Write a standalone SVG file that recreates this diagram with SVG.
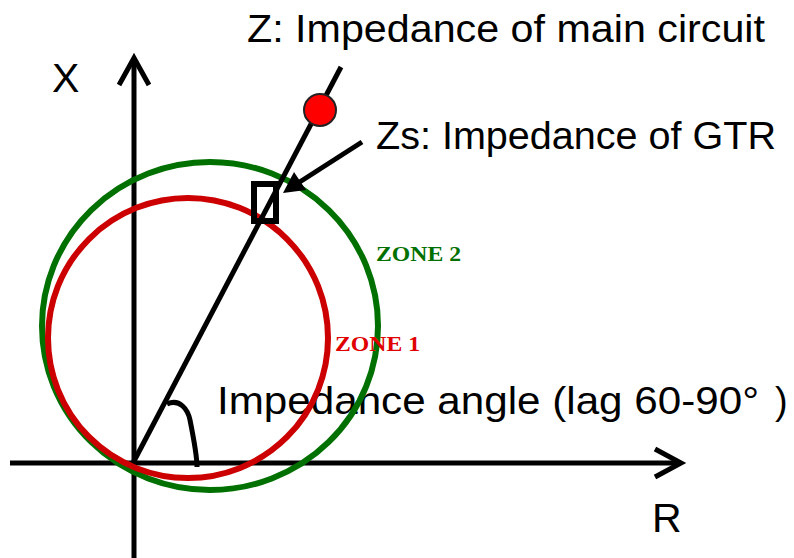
<svg xmlns="http://www.w3.org/2000/svg" width="794" height="558" viewBox="0 0 794 558">
<style>
.ax{stroke:#000;stroke-width:5;fill:none;stroke-linecap:butt;stroke-linejoin:miter}
.lbl{font-family:"Liberation Sans",Arial,sans-serif;fill:#000}
.zone{font-family:"Liberation Serif","Times New Roman",serif;font-weight:bold;font-size:21px}
</style>
<rect width="794" height="558" fill="#fff"/>
<g id="axes">
<line class="ax" x1="134" y1="558" x2="134" y2="60"/>
<polyline class="ax" points="119,85 134,58 149,85"/>
<line class="ax" x1="10" y1="463" x2="679" y2="463"/>
<polyline class="ax" points="655,449 681,463 655,477"/>
<text class="lbl" x="52" y="92" font-size="41">X</text>
<text class="lbl" x="652" y="532" font-size="41">R</text>
</g>
<g id="angle-label">
<text class="lbl" x="217" y="414" font-size="38" textLength="542" lengthAdjust="spacingAndGlyphs">Impedance angle (lag 60-90°</text>
<text class="lbl" x="775" y="414" font-size="38">)</text>
</g>
<g id="zone2">
<ellipse cx="210" cy="326" rx="168" ry="164" fill="none" stroke="#007000" stroke-width="6"/>
<text class="zone" x="376" y="261" fill="#007000" textLength="85" lengthAdjust="spacingAndGlyphs">ZONE 2</text>
</g>
<g id="zone1">
<circle cx="188" cy="338" r="140" fill="none" stroke="#CC0000" stroke-width="6"/>
<text class="zone" x="335" y="351" fill="#E00000" textLength="85" lengthAdjust="spacingAndGlyphs">ZONE 1</text>
</g>
<g id="connectors">
<line x1="133" y1="463" x2="341" y2="67" stroke="#000" stroke-width="5"/>
<path d="M167,404 C180,398 188,410 190,420 C194,440 197,455 197,467" fill="none" stroke="#000" stroke-width="5"/>
<line x1="362" y1="142" x2="295" y2="185" stroke="#000" stroke-width="5"/>
<polygon points="283,193 294,172 306,190" fill="#000"/>
</g>
<g id="gtr">
<rect x="254" y="184" width="22" height="37" fill="none" stroke="#000" stroke-width="6"/>
<text class="lbl" x="376" y="149" font-size="38" textLength="400" lengthAdjust="spacingAndGlyphs">Zs: Impedance of GTR</text>
</g>
<g id="main">
<circle cx="320" cy="110" r="16" fill="#FF0000" stroke="#222" stroke-width="2"/>
<text class="lbl" x="247" y="42" font-size="38" textLength="518" lengthAdjust="spacingAndGlyphs">Z: Impedance of main circuit</text>
</g>
</svg>
